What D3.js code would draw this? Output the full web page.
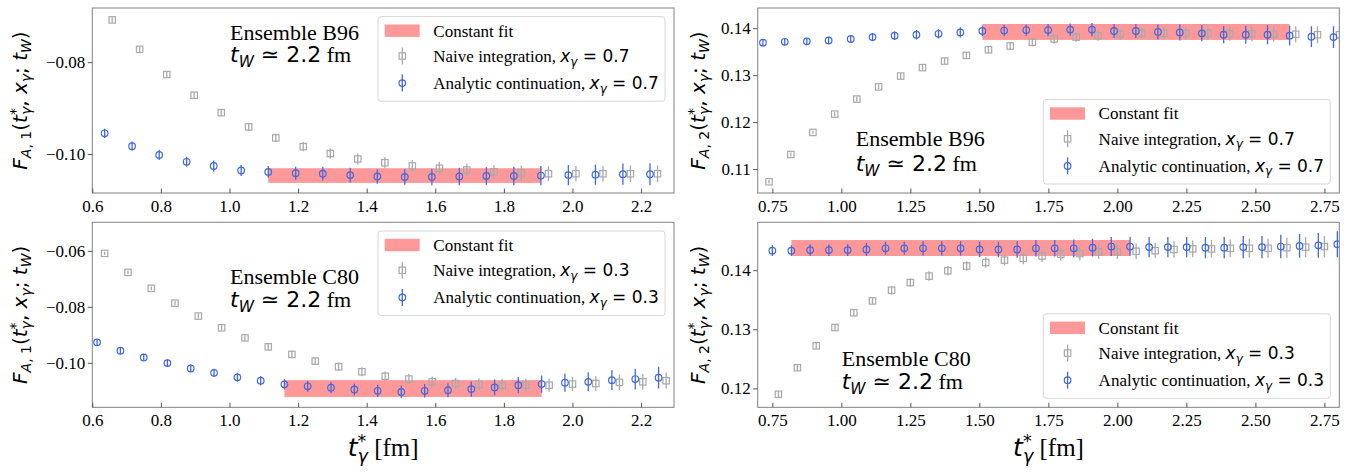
<!DOCTYPE html>
<html>
<head>
<meta charset="utf-8">
<script src="https://cdn.jsdelivr.net/npm/d3@7"></script>
<style>
  body { margin: 0; background: #fff; }
  text { white-space: pre; }
</style>
</head>
<body>
<div class="canvas"></div>
<script>
// lattice times t*_gamma [fm]
const tB96 = [0.636, 0.716, 0.795, 0.875, 0.954, 1.034, 1.113, 1.193, 1.272, 1.352, 1.431, 1.511, 1.590, 1.670,
	1.749, 1.829, 1.908, 1.988, 2.067, 2.147, 2.226, 2.306, 2.385, 2.465, 2.544, 2.624, 2.703, 2.783];
const tC80 = [0.614, 0.682, 0.750, 0.819, 0.887, 0.955, 1.023, 1.091, 1.160, 1.228, 1.296, 1.364, 1.432, 1.501,
	1.569, 1.637, 1.705, 1.773, 1.842, 1.910, 1.978, 2.046, 2.115, 2.183, 2.251, 2.319, 2.387, 2.456, 2.524,
	2.592, 2.660, 2.728, 2.797];

// B96, F_A,1, x_gamma = 0.7
const b96A1Analytic = [-0.0955, -0.0983, -0.1002, -0.1017, -0.1026, -0.1036, -0.1039, -0.1042, -0.1043, -0.1046, -0.1049,
	-0.1050, -0.1050, -0.1049, -0.1048, -0.1048, -0.1047, -0.1046, -0.1045, -0.1044, -0.1044];
const b96A1AnalyticErr = [0.0010, 0.0010, 0.0011, 0.0011, 0.0012, 0.0012, 0.0013, 0.0014, 0.0015, 0.0016, 0.0016,
	0.0017, 0.0018, 0.0019, 0.0019, 0.0020, 0.0021, 0.0022, 0.0022, 0.0023, 0.0024];
const b96A1Naive = [-0.0708, -0.0772, -0.0827, -0.0872, -0.0910, -0.0941, -0.0965, -0.0984, -0.0999, -0.1011, -0.1019,
	-0.1026, -0.1031, -0.1035, -0.1039, -0.1041, -0.1043, -0.1043, -0.1043, -0.1043, -0.1043];
const b96A1NaiveErr = [0.0006, 0.0006, 0.0007, 0.0007, 0.0008, 0.0008, 0.0009, 0.0010, 0.0011, 0.0012, 0.0012,
	0.0013, 0.0014, 0.0014, 0.0015, 0.0016, 0.0016, 0.0017, 0.0017, 0.0018, 0.0018];

// B96, F_A,2, x_gamma = 0.7
const b96A2Analytic = [0.1369, 0.1371, 0.1372, 0.1374, 0.1377, 0.1381, 0.1384, 0.1386, 0.1388, 0.1391, 0.1394, 0.1395,
	0.1396, 0.1396, 0.1397, 0.1397, 0.1394, 0.1394, 0.1392, 0.1391, 0.1389, 0.1386, 0.1386, 0.1386, 0.1384, 0.1382, 0.1381];
const b96A2AnalyticErr = [0.0007, 0.0007, 0.0007, 0.0008, 0.0008, 0.0009, 0.0009, 0.0010, 0.0010, 0.0011, 0.0011, 0.0012,
	0.0012, 0.0013, 0.0013, 0.0014, 0.0015, 0.0015, 0.0016, 0.0017, 0.0017, 0.0018, 0.0019, 0.0020, 0.0021, 0.0022, 0.0023];
const b96A2Naive = [0.1073, 0.1131, 0.1178, 0.1217, 0.1249, 0.1275, 0.1298, 0.1316, 0.1330, 0.1342, 0.1354, 0.1362,
	0.1370, 0.1377, 0.1381, 0.1384, 0.1387, 0.1389, 0.1389, 0.1389, 0.1389, 0.1388, 0.1388, 0.1387, 0.1387, 0.1386, 0.1386];
const b96A2NaiveErr = [0.0004, 0.0004, 0.0004, 0.0005, 0.0005, 0.0005, 0.0006, 0.0006, 0.0007, 0.0007, 0.0008, 0.0008,
	0.0009, 0.0010, 0.0010, 0.0011, 0.0012, 0.0012, 0.0013, 0.0014, 0.0014, 0.0015, 0.0016, 0.0016, 0.0017, 0.0018, 0.0018];

// C80, F_A,1, x_gamma = 0.3
const c80A1Analytic = [-0.0927, -0.0957, -0.0981, -0.1001, -0.1020, -0.1036, -0.1052, -0.1064, -0.1077, -0.1084, -0.1089,
	-0.1095, -0.1100, -0.1104, -0.1100, -0.1098, -0.1094, -0.1088, -0.1080, -0.1076, -0.1071, -0.1068, -0.1062, -0.1058, -0.1053];
const c80A1AnalyticErr = [0.0010, 0.0011, 0.0012, 0.0013, 0.0014, 0.0015, 0.0016, 0.0017, 0.0018, 0.0019, 0.0020,
	0.0021, 0.0022, 0.0023, 0.0024, 0.0025, 0.0027, 0.0028, 0.0029, 0.0031, 0.0032, 0.0034, 0.0035, 0.0037, 0.0039];
const c80A1Naive = [-0.0609, -0.0677, -0.0734, -0.0787, -0.0833, -0.0875, -0.0911, -0.0943, -0.0970, -0.0994, -0.1014,
	-0.1032, -0.1048, -0.1058, -0.1068, -0.1074, -0.1077, -0.1080, -0.1080, -0.1080, -0.1076, -0.1074, -0.1070, -0.1068, -0.1064];
const c80A1NaiveErr = [0.0006, 0.0007, 0.0007, 0.0008, 0.0009, 0.0010, 0.0011, 0.0012, 0.0013, 0.0014, 0.0015,
	0.0016, 0.0017, 0.0018, 0.0019, 0.0020, 0.0021, 0.0022, 0.0023, 0.0024, 0.0025, 0.0026, 0.0027, 0.0028, 0.0029];

// C80, F_A,2, x_gamma = 0.3
const c80A2Analytic = [0.1433, 0.1433, 0.1434, 0.1434, 0.1434, 0.1435, 0.1437, 0.1437, 0.1437, 0.1437, 0.1437, 0.1435,
	0.1435, 0.1435, 0.1437, 0.1437, 0.1437, 0.1438, 0.1440, 0.1440, 0.1439, 0.1439, 0.1439, 0.1438, 0.1438, 0.1439,
	0.1439, 0.1440, 0.1441, 0.1442, 0.1444];
const c80A2AnalyticErr = [0.0009, 0.0009, 0.0010, 0.0010, 0.0010, 0.0011, 0.0011, 0.0011, 0.0012, 0.0012, 0.0012, 0.0013,
	0.0013, 0.0014, 0.0014, 0.0014, 0.0015, 0.0015, 0.0016, 0.0016, 0.0017, 0.0017, 0.0017, 0.0018, 0.0018, 0.0019,
	0.0019, 0.0020, 0.0020, 0.0021, 0.0022];
const c80A2Naive = [0.1190, 0.1235, 0.1272, 0.1303, 0.1328, 0.1348, 0.1366, 0.1379, 0.1390, 0.1399, 0.1407, 0.1413,
	0.1417, 0.1420, 0.1424, 0.1427, 0.1428, 0.1431, 0.1431, 0.1432, 0.1433, 0.1435, 0.1436, 0.1436, 0.1437, 0.1437,
	0.1437, 0.1438, 0.1439, 0.1440, 0.1440];
const c80A2NaiveErr = [0.0005, 0.0005, 0.0005, 0.0006, 0.0006, 0.0006, 0.0007, 0.0007, 0.0008, 0.0008, 0.0008, 0.0009,
	0.0009, 0.0010, 0.0010, 0.0011, 0.0011, 0.0012, 0.0012, 0.0013, 0.0013, 0.0014, 0.0014, 0.0015, 0.0015, 0.0016,
	0.0016, 0.0017, 0.0017, 0.0018, 0.0018];

// constant fits: [value, error, t from, t to]
const fitB96A1 = [-0.1047, 0.0016, 1.113, 1.908];
const fitB96A2 = [0.1392, 0.0017, 1.511, 2.624];
const fitC80A1 = [-0.1092, 0.0030, 1.160, 1.910];
const fitC80A2 = [0.14375, 0.00135, 0.819, 2.046];

// tick values
const xTicksA1 = [0.6, 0.8, 1.0, 1.2, 1.4, 1.6, 1.8, 2.0, 2.2];
const xTicksA2 = [0.75, 1.00, 1.25, 1.50, 1.75, 2.00, 2.25, 2.50, 2.75];
const yTicksB96A1 = [-0.10, -0.08];
const yTicksB96A2 = [0.11, 0.12, 0.13, 0.14];
const yTicksC80A1 = [-0.10, -0.08, -0.06];
const yTicksC80A2 = [0.12, 0.13, 0.14];

const legendLabels = ['Constant fit', 'Naive integration, ', 'Analytic continuation, '];

const BLUE = '#4169e1', GRAY = '#a9a9a9', BAND = '#ff9999';
const SERIF = '"Liberation Serif", "Times New Roman", serif';
const MATH = '"DejaVu Sans", sans-serif';
const DODGE = 0.022; // naive points are shifted right a little

const svg = d3.select('.canvas').append('svg')
	.attr('width', 1354)
	.attr('height', 473);

// lay out a run of text pieces (mathtext-like) as tspans of one text, returns width
function rich(g, pieces, size) {
	const text = g.append('text').attr('fill', '#000');
	let x = 0, held = 0;
	pieces.forEach(p => {
		const sz = p.sh ? size * 0.7 : size;
		const dy = p.sh === 'sup' ? -size * 0.36 : p.sh === 'sub' ? size * 0.22 : 0;
		const ts = text.append('tspan')
			.attr('x', x).attr('y', dy)
			.attr('font-family', p.f === 's' ? SERIF : MATH)
			.attr('font-style', p.i ? 'italic' : 'normal')
			.attr('font-size', sz)
			.text(p.s);
		const w = ts.node().getComputedTextLength();
		if (p.stack) held = w;
		else { x += Math.max(w, held); held = 0; }
	});
	return x;
}

const tStar = () => [{s: 't', i: 1}, {s: '*', sh: 'sup', stack: 1}, {s: 'γ', i: 1, sh: 'sub'}];
const yLabel = k => [{s: 'F', i: 1}, {s: 'A', i: 1, sh: 'sub'}, {s: ', ' + k, sh: 'sub'}, {s: '('},
	...tStar(), {s: ', '}, {s: 'x', i: 1}, {s: 'γ', i: 1, sh: 'sub'}, {s: '; '}, {s: 't', i: 1},
	{s: 'W', i: 1, sh: 'sub'}, {s: ')'}];
const xgLabel = v => [{s: 'x', i: 1}, {s: 'γ', i: 1, sh: 'sub'}, {s: ' = ' + v}];

const panels = [
	{box: [92.3, 8, 674, 193], xDom: [0.6, 2.296], yDom: [-0.1085, -0.0682], t: tB96.slice(0, 21),
		blue: b96A1Analytic, blueErr: b96A1AnalyticErr, gray: b96A1Naive, grayErr: b96A1NaiveErr, fit: fitB96A1,
		xTicks: xTicksA1, xFmt: '.1f', yTicks: yTicksB96A1, ens: 'Ensemble B96', xg: '0.7', k: '1',
		ann: [137.7, 31.5, 54], legendTop: true, labX: 27},
	{box: [757.7, 8, 1339.3, 193], xDom: [0.697, 2.804], yDom: [0.1049, 0.1443], t: tB96.slice(1),
		blue: b96A2Analytic, blueErr: b96A2AnalyticErr, gray: b96A2Naive, grayErr: b96A2NaiveErr, fit: fitB96A2,
		xTicks: xTicksA2, xFmt: '.2f', yTicks: yTicksB96A2, ens: 'Ensemble B96', xg: '0.7', k: '2',
		ann: [98, 137.5, 163], legendTop: false, labX: 705},
	{box: [92.3, 222.3, 674, 407.3], xDom: [0.6, 2.296], yDom: [-0.1159, -0.0498], t: tC80.slice(0, 25),
		blue: c80A1Analytic, blueErr: c80A1AnalyticErr, gray: c80A1Naive, grayErr: c80A1NaiveErr, fit: fitC80A1,
		xTicks: xTicksA1, xFmt: '.1f', yTicks: yTicksC80A1, ens: 'Ensemble C80', xg: '0.3', k: '1',
		ann: [137.7, 61.2, 84.7], legendTop: true, labX: 27, xLabel: true},
	{box: [757.7, 222.3, 1339.3, 407.3], xDom: [0.697, 2.804], yDom: [0.1168, 0.1481], t: tC80.slice(2),
		blue: c80A2Analytic, blueErr: c80A2AnalyticErr, gray: c80A2Naive, grayErr: c80A2NaiveErr, fit: fitC80A2,
		xTicks: xTicksA2, xFmt: '.2f', yTicks: yTicksC80A2, ens: 'Ensemble C80', xg: '0.3', k: '2',
		ann: [84, 143.2, 166.7], legendTop: false, labX: 705, xLabel: true}
];

function errorbars(g, pts, color, marker) {
	g.selectAll(null).data(pts).enter().append('line')
		.attr('x1', d => d.x).attr('x2', d => d.x)
		.attr('y1', d => d.y0).attr('y2', d => d.y1)
		.attr('stroke', color).attr('stroke-width', 1.3);
	if (marker === 'circle') {
		g.selectAll(null).data(pts).enter().append('circle')
			.attr('cx', d => d.x).attr('cy', d => d.y).attr('r', 3.3)
			.attr('fill', 'none').attr('stroke', color).attr('stroke-width', 1.2);
	} else {
		g.selectAll(null).data(pts).enter().append('rect')
			.attr('x', d => d.x - 3.2).attr('y', d => d.y - 3.2)
			.attr('width', 6.4).attr('height', 6.4)
			.attr('fill', 'none').attr('stroke', color).attr('stroke-width', 1.2);
	}
}

panels.forEach((p, i) => {
	const [x0, y0, x1, y1] = p.box;
	const x = d3.scaleLinear().domain(p.xDom).range([x0, x1]);
	const y = d3.scaleLinear().domain(p.yDom).range([y1, y0]);

	svg.append('clipPath').attr('id', 'clip' + i)
		.append('rect').attr('x', x0).attr('y', y0).attr('width', x1 - x0).attr('height', y1 - y0);
	const plot = svg.append('g').attr('clip-path', `url(#clip${i})`);

	// constant fit band
	const [fv, fe, ft0, ft1] = p.fit;
	plot.append('rect')
		.attr('x', x(ft0)).attr('width', x(ft1) - x(ft0))
		.attr('y', y(fv + fe)).attr('height', y(fv - fe) - y(fv + fe))
		.attr('fill', BAND);

	const grayPts = p.t.map((t, j) => ({x: x(t + DODGE), y: y(p.gray[j]),
		y0: y(p.gray[j] - p.grayErr[j]), y1: y(p.gray[j] + p.grayErr[j])}));
	const bluePts = p.t.map((t, j) => ({x: x(t), y: y(p.blue[j]),
		y0: y(p.blue[j] - p.blueErr[j]), y1: y(p.blue[j] + p.blueErr[j])}));
	errorbars(plot, grayPts, GRAY, 'square');
	errorbars(plot, bluePts, BLUE, 'circle');

	// frame
	svg.append('rect')
		.attr('x', x0).attr('y', y0).attr('width', x1 - x0).attr('height', y1 - y0)
		.attr('fill', 'none').attr('stroke', '#808080').attr('stroke-width', 1);

	// axes
	const xAxis = d3.axisBottom(x).tickValues(p.xTicks).tickFormat(d3.format(p.xFmt))
		.tickSize(-4.5).tickPadding(6.5);
	const yAxis = d3.axisLeft(y).tickValues(p.yTicks).tickFormat(d3.format('.2f'))
		.tickSize(4.5).tickPadding(2.5);
	const xg = svg.append('g').attr('transform', `translate(0, ${y1})`).call(xAxis);
	const yg = svg.append('g').attr('transform', `translate(${x0}, 0)`).call(yAxis);
	[xg, yg].forEach(ag => {
		ag.select('.domain').remove();
		ag.selectAll('line').attr('stroke', '#555');
		ag.selectAll('text').attr('font-family', SERIF).attr('font-size', 17).attr('fill', '#000');
	});

	// ensemble annotation
	const a1 = svg.append('g').attr('transform', `translate(${x0 + p.ann[0]}, ${y0 + p.ann[1]})`);
	rich(a1, [{s: p.ens, f: 's'}], 22);
	const a2 = svg.append('g').attr('transform', `translate(${x0 + p.ann[0]}, ${y0 + p.ann[2]})`);
	rich(a2, [{s: 't', i: 1}, {s: 'W', i: 1, sh: 'sub'}, {s: ' ≃ 2.2'}, {s: ' fm', f: 's'}], 22);

	// legend
	const lw = 287, lh = 84.5;
	const lx = x1 - 9 - lw;
	const ly = p.legendTop ? y0 + 8.7 : y1 - 9 - lh;
	const lg = svg.append('g').attr('transform', `translate(${lx}, ${ly})`);
	lg.append('rect').attr('width', lw).attr('height', lh).attr('rx', 3)
		.attr('fill', '#fff').attr('fill-opacity', 0.8)
		.attr('stroke', '#d6d6d6').attr('stroke-width', 1);
	const rows = [14, 39.3, 66.4];
	lg.append('rect').attr('x', 6.7).attr('y', rows[0] - 6.2).attr('width', 35).attr('height', 12.4).attr('fill', BAND);
	errorbars(lg, [{x: 24.3, y: rows[1], y0: rows[1] - 8.5, y1: rows[1] + 8.5}], GRAY, 'square');
	errorbars(lg, [{x: 24.3, y: rows[2], y0: rows[2] - 8.5, y1: rows[2] + 8.5}], BLUE, 'circle');
	legendLabels.forEach((lab, j) => {
		const row = lg.append('g').attr('transform', `translate(55.3, ${rows[j] + 5.8})`);
		const pieces = [{s: lab, f: 's'}];
		if (j > 0) pieces.push(...xgLabel(p.xg));
		rich(row, pieces, 17);
	});

	// y label
	const yl = svg.append('g');
	const yw = rich(yl, yLabel(p.k), 20);
	yl.attr('transform', `translate(${p.labX}, ${(y0 + y1) / 2}) rotate(-90) translate(${-yw / 2}, 0)`);

	// x label
	if (p.xLabel) {
		const xl = svg.append('g');
		const xw = rich(xl, [...tStar(), {s: ' [fm]', f: 's'}], 25);
		xl.attr('transform', `translate(${(x0 + x1) / 2 - xw / 2}, 456)`);
	}
});
</script>
</body>
</html>
